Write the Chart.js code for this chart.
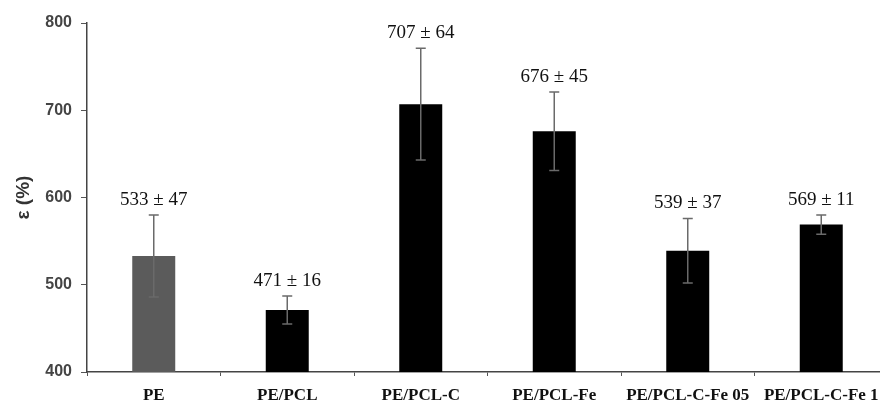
<!DOCTYPE html>
<html>
<head>
<meta charset="utf-8">
<script src="https://cdn.jsdelivr.net/npm/chart.js@4"></script>
<style>
html,body{margin:0;padding:0;background:#fff;overflow:hidden;}
#wrap{width:888px;height:401px;position:relative;}
</style>
</head>
<body>
<div id="wrap"><canvas id="c"></canvas></div>
<script>
const categories = ["PE", "PE/PCL", "PE/PCL-C", "PE/PCL-Fe", "PE/PCL-C-Fe 05", "PE/PCL-C-Fe 1"];
const meanValues = [533, 471, 707, 676, 539, 569];
const sdValues = [47, 16, 64, 45, 37, 11];
const barColors = ["#5b5b5b", "#000000", "#000000", "#000000", "#000000", "#000000"];
const yTicks = [400, 500, 600, 700, 800];

const errorPlugin = {
  id: 'errorBars',
  afterDatasetsDraw(chart) {
    const ctx = chart.ctx;
    const y = chart.scales.y;
    const meta = chart.getDatasetMeta(0);
    ctx.save();
    meta.data.forEach((bar, i) => {
      const x = bar.x;
      const top = y.getPixelForValue(meanValues[i] + sdValues[i]);
      const bot = y.getPixelForValue(meanValues[i] - sdValues[i]);
      ctx.strokeStyle = '#6a6a6a';
      ctx.lineWidth = 1.5;
      ctx.beginPath();
      ctx.moveTo(x, top); ctx.lineTo(x, bot);
      ctx.moveTo(x - 5, top); ctx.lineTo(x + 5, top);
      ctx.moveTo(x - 5, bot); ctx.lineTo(x + 5, bot);
      ctx.stroke();
      ctx.fillStyle = '#111';
      ctx.font = '19px "Liberation Serif", serif';
      ctx.textAlign = 'center';
      ctx.textBaseline = 'middle';
      ctx.fillText(meanValues[i] + ' \u00b1 ' + sdValues[i], x, top - 15);
    });
    ctx.restore();
  }
};

new Chart(document.getElementById('c'), {
  type: 'bar',
  data: {
    labels: categories,
    datasets: [{
      data: meanValues,
      backgroundColor: barColors,
      borderWidth: 0,
      categoryPercentage: 1,
      barPercentage: 0.322
    }]
  },
  plugins: [errorPlugin],
  options: {
    responsive: true,
    maintainAspectRatio: false,
    animation: false,
    layout: { padding: { top: 23, right: 0, left: 0, bottom: 0 } },
    plugins: { legend: { display: false }, tooltip: { enabled: false } },
    scales: {
      x: {
        grid: { display: true, drawOnChartArea: false, tickLength: 4, color: '#555', offset: true },
        border: { color: '#444', width: 1.5 },
        ticks: { color: '#111', padding: 9, maxRotation: 0, autoSkip: false,
          font: { family: '"Liberation Serif", serif', size: 17, weight: 'bold' } },
        afterFit(s) { s.height = 29; }
      },
      y: {
        min: 400, max: 800,
        afterBuildTicks(s) { s.ticks = yTicks.map(v => ({ value: v })); },
        grid: { display: true, drawOnChartArea: false, tickLength: 6, color: '#555' },
        border: { color: '#444', width: 1.5 },
        ticks: { color: '#444', padding: 9,
          font: { family: '"Liberation Sans", sans-serif', size: 16, weight: 'bold' } },
        title: { display: true, text: '\u03b5 (%)', color: '#333', padding: { top: 12, bottom: 0 },
          font: { family: '"Liberation Sans", sans-serif', size: 19, weight: 'bold' } },
        afterFit(s) { s.width = 87; }
      }
    }
  }
});
</script>
</body>
</html>
